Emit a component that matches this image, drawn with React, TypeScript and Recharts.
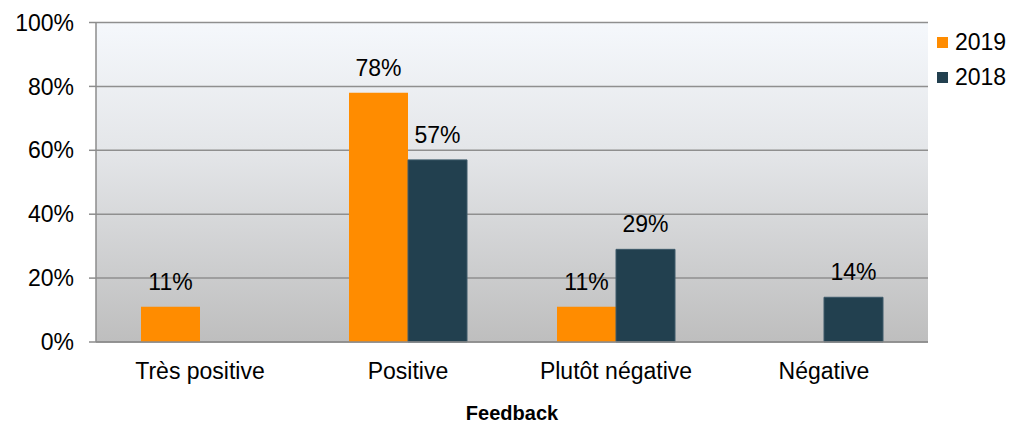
import React from "react";
import {
  BarChart,
  Bar,
  XAxis,
  YAxis,
  CartesianGrid,
  Legend,
  LabelList,
} from "recharts";

const categories = ["Très positive", "Positive", "Plutôt négative", "Négative"];
const values2019: (number | null)[] = [11, 78, 11, null];
const values2018: (number | null)[] = [null, 57, 29, 14];
const yTicks = [0, 20, 40, 60, 80, 100];
const edgeTicks = [0, 1, 2, 3, 4];
const seriesNames = ["2019", "2018"];
const seriesColors = ["#FF8C00", "#22404F"];

const data = categories.map((c, i) => ({
  name: c,
  y2019: values2019[i],
  y2018: values2018[i],
}));

const FONT = '"Liberation Sans", Arial, sans-serif';

const LegendContent = () => (
  <div style={{ fontFamily: FONT, fontSize: 23, color: "#000" }}>
    {seriesNames.map((n, i) => (
      <div
        key={n}
        style={{ display: "flex", alignItems: "center", height: 35 }}
      >
        <span
          style={{
            display: "inline-block",
            width: 11,
            height: 11,
            background: seriesColors[i],
            marginRight: 7,
          }}
        />
        <span>{n}</span>
      </div>
    ))}
  </div>
);

const fmtPct = (v: any) => (v == null ? "" : `${v}%`);

export default function App() {
  return (
    <div style={{ position: "absolute", left: 0, top: 0, fontFamily: FONT }}>
      <BarChart
        width={1015}
        height={425}
        data={data}
        margin={{ top: 22.5, right: 9, bottom: 0, left: 0 }}
        barCategoryGap={45}
        barGap={0}
      >
        <defs>
          <linearGradient id="bgGrad" x1="0" y1="0" x2="0" y2="1">
            <stop offset="0%" stopColor="#F5F8FC" />
            <stop offset="40%" stopColor="#E4E6E9" />
            <stop offset="100%" stopColor="#BEBEBE" />
          </linearGradient>
        </defs>
        <CartesianGrid
          vertical={false}
          stroke="#8F8F8F"
          strokeWidth={1.5}
          fill="url(#bgGrad)"
          fillOpacity={1}
        />
        <XAxis
          xAxisId="edges"
          type="number"
          domain={[0, 4]}
          ticks={edgeTicks}
          allowDataOverflow
          height={0}
          tick={false}
          axisLine={false}
          tickLine={{ stroke: "#8C8C8C", strokeWidth: 1.5 }}
          tickSize={7}
        />
        <XAxis
          dataKey="name"
          height={83}
          tickLine={false}
          tickSize={0}
          tickMargin={21}
          axisLine={{ stroke: "#8C8C8C", strokeWidth: 1.5 }}
          tick={{ fill: "#000", fontSize: 23, fontFamily: FONT }}
          interval={0}
          label={{
            value: "Feedback",
            position: "insideBottom",
            offset: 5,
            fill: "#000",
            fontSize: 20,
            fontWeight: "bold",
            fontFamily: FONT,
          }}
        />
        <YAxis
          domain={[0, 100]}
          ticks={yTicks}
          width={96}
          tickSize={7}
          tickMargin={15}
          tickFormatter={fmtPct}
          axisLine={{ stroke: "#8C8C8C", strokeWidth: 1.5 }}
          tickLine={{ stroke: "#8C8C8C", strokeWidth: 1.5 }}
          tick={{ fill: "#000", fontSize: 23, fontFamily: FONT }}
        />
        <YAxis
          yAxisId="right"
          orientation="right"
          domain={[0, 100]}
          width={0}
          tick={false}
          tickLine={false}
          axisLine={{ stroke: "#B4B4B4", strokeWidth: 1.5 }}
        />
        <Legend
          layout="vertical"
          align="right"
          verticalAlign="top"
          content={<LegendContent />}
          wrapperStyle={{ left: 937, top: 24.5, width: 78, right: "auto" }}
        />
        <Bar
          dataKey="y2019"
          name="2019"
          fill={seriesColors[0]}
          isAnimationActive={false}
        >
          <LabelList
            dataKey="y2019"
            position="top"
            offset={17}
            formatter={fmtPct}
            fill="#000"
            fontSize={23}
            fontFamily={FONT}
          />
        </Bar>
        <Bar
          dataKey="y2018"
          name="2018"
          fill={seriesColors[1]}
          stroke="#3E5A6B"
          strokeWidth={1}
          isAnimationActive={false}
        >
          <LabelList
            dataKey="y2018"
            position="top"
            offset={17}
            formatter={fmtPct}
            fill="#000"
            fontSize={23}
            fontFamily={FONT}
          />
        </Bar>
      </BarChart>
    </div>
  );
}
